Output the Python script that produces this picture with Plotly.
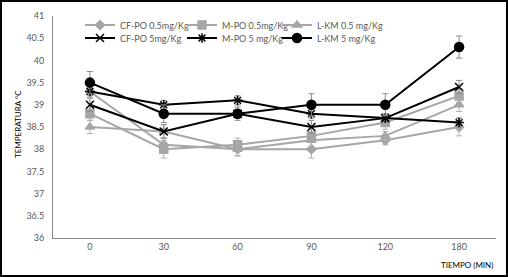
import plotly.graph_objects as go

# ---- data ----
categories = ["0", "30", "60", "90", "120", "180"]

cfpo_05 = [39.3, 38.1, 38.0, 38.0, 38.2, 38.5]
mpo_05 = [38.8, 38.0, 38.1, 38.3, 38.6, 39.2]
lkm_05 = [38.5, 38.4, 38.0, 38.2, 38.3, 39.0]
cfpo_5 = [39.0, 38.4, 38.8, 38.5, 38.7, 39.4]
mpo_5 = [39.3, 39.0, 39.1, 38.8, 38.7, 38.6]
lkm_5 = [39.5, 38.8, 38.8, 39.0, 39.0, 40.3]

cfpo_05_err = [0.15, 0.15, 0.15, 0.2, 0.1, 0.2]
mpo_05_err = [0.15, 0.2, 0.15, 0.15, 0.15, 0.15]
lkm_05_err = [0.15, 0.15, 0.15, 0.15, 0.1, 0.15]
cfpo_5_err = [0.15, 0.15, 0.1, 0.15, 0.1, 0.15]
mpo_5_err = [0.1, 0.1, 0.1, 0.1, 0.1, 0.1]
lkm_5_err = [0.25, 0.2, 0.15, 0.25, 0.25, 0.25]

y_ticks = [36, 36.5, 37, 37.5, 38, 38.5, 39, 39.5, 40, 40.5, 41]
x_title = "TIEMPO (MIN)"
y_title = "TEMPERATURA °C"

GRAY = "#a6a6a6"
BLACK = "#000000"
FONT = "Lato"

W, H = 508, 277
ML, MR, MT, MB = 53, 12, 16, 39
PW, PH = W - ML - MR, H - MT - MB

def px(x):
    return (x - ML) / PW

def py(y):
    return 1 - (y - MT) / PH

# legend slot (left x of entry, centre y of row) for each series
legend_cols = [80, 182, 277]
legend_rows = [25, 38]

series = [
    ("CF-PO 0.5mg/Kg", cfpo_05, cfpo_05_err, GRAY, "diamond", 7),
    ("M-PO 0.5mg/Kg", mpo_05, mpo_05_err, GRAY, "square", 8),
    ("L-KM 0.5 mg/Kg", lkm_05, lkm_05_err, GRAY, "triangle-up", 8),
    ("CF-PO 5mg/Kg", cfpo_5, cfpo_5_err, BLACK, "x-thin-open", 8),
    ("M-PO 5 mg/Kg", mpo_5, mpo_5_err, BLACK, "asterisk-open", 8),
    ("L-KM 5 mg/Kg", lkm_5, lkm_5_err, BLACK, "circle", 9),
]

fig = go.Figure()
legends = {}
for i, (name, vals, err, col, sym, size) in enumerate(series):
    leg = "legend" if i == 0 else f"legend{i + 1}"
    fig.add_trace(go.Scatter(
        x=categories, y=vals, name=name, mode="lines+markers",
        line=dict(color=col, width=2),
        marker=dict(symbol=sym, size=size, color=col,
                    line=dict(color=col, width=1.5)),
        error_y=dict(type="data", array=err, visible=True,
                     color="#8c8c8c" if col == BLACK else "#b0b0b0",
                     thickness=1, width=3),
        legend=leg,
    ))
    legends[leg] = dict(
        orientation="h", xanchor="left", yanchor="middle",
        x=px(legend_cols[i % 3]), y=py(legend_rows[i // 3]),
        font=dict(family=FONT, size=9, color="#595959"),
        itemwidth=30, bgcolor="rgba(0,0,0,0)", borderwidth=0,
        itemclick=False, itemdoubleclick=False)

fig.update_layout(
    width=W, height=H,
    margin=dict(l=ML, r=MR, t=MT, b=MB, pad=0, autoexpand=False),
    paper_bgcolor="white", plot_bgcolor="white",
    font=dict(family=FONT, size=9, color="#595959"),
    showlegend=True,
    xaxis=dict(type="category", showgrid=False, zeroline=False,
               showline=True, linecolor="#868686", linewidth=1,
               ticks="", automargin=False,
               tickfont=dict(family=FONT, size=9, color="#595959"),
               range=[-0.5, 5.5]),
    yaxis=dict(range=[36, 41], tickvals=y_ticks,
               ticktext=[f"{v:g}" for v in y_ticks],
               showgrid=False, zeroline=False, automargin=False,
               showline=True, linecolor="#868686", linewidth=1,
               ticks="", ticklabelstandoff=6,
               tickfont=dict(family=FONT, size=9, color="#595959")),
    annotations=[
        dict(text=x_title, x=px(495), y=py(265), xref="paper", yref="paper",
             xanchor="right", yanchor="middle", showarrow=False,
             font=dict(family=FONT, size=8, color="#000000")),
        dict(text=y_title, x=px(18), y=py(124), xref="paper", yref="paper",
             xanchor="center", yanchor="middle", showarrow=False, textangle=-90,
             font=dict(family=FONT, size=8, color="#000000")),
    ],
    shapes=[
        dict(type="rect", xref="paper", yref="paper",
             x0=px(1), x1=px(507), y0=py(276), y1=py(1),
             line=dict(color="#000000", width=2), fillcolor="rgba(0,0,0,0)"),
    ],
)
fig.update_layout(**legends)

fig.write_html("out.html",
               config={"displayModeBar": False},
               post_script="document.body.style.margin='0';"
                           "document.body.style.overflow='hidden';")
